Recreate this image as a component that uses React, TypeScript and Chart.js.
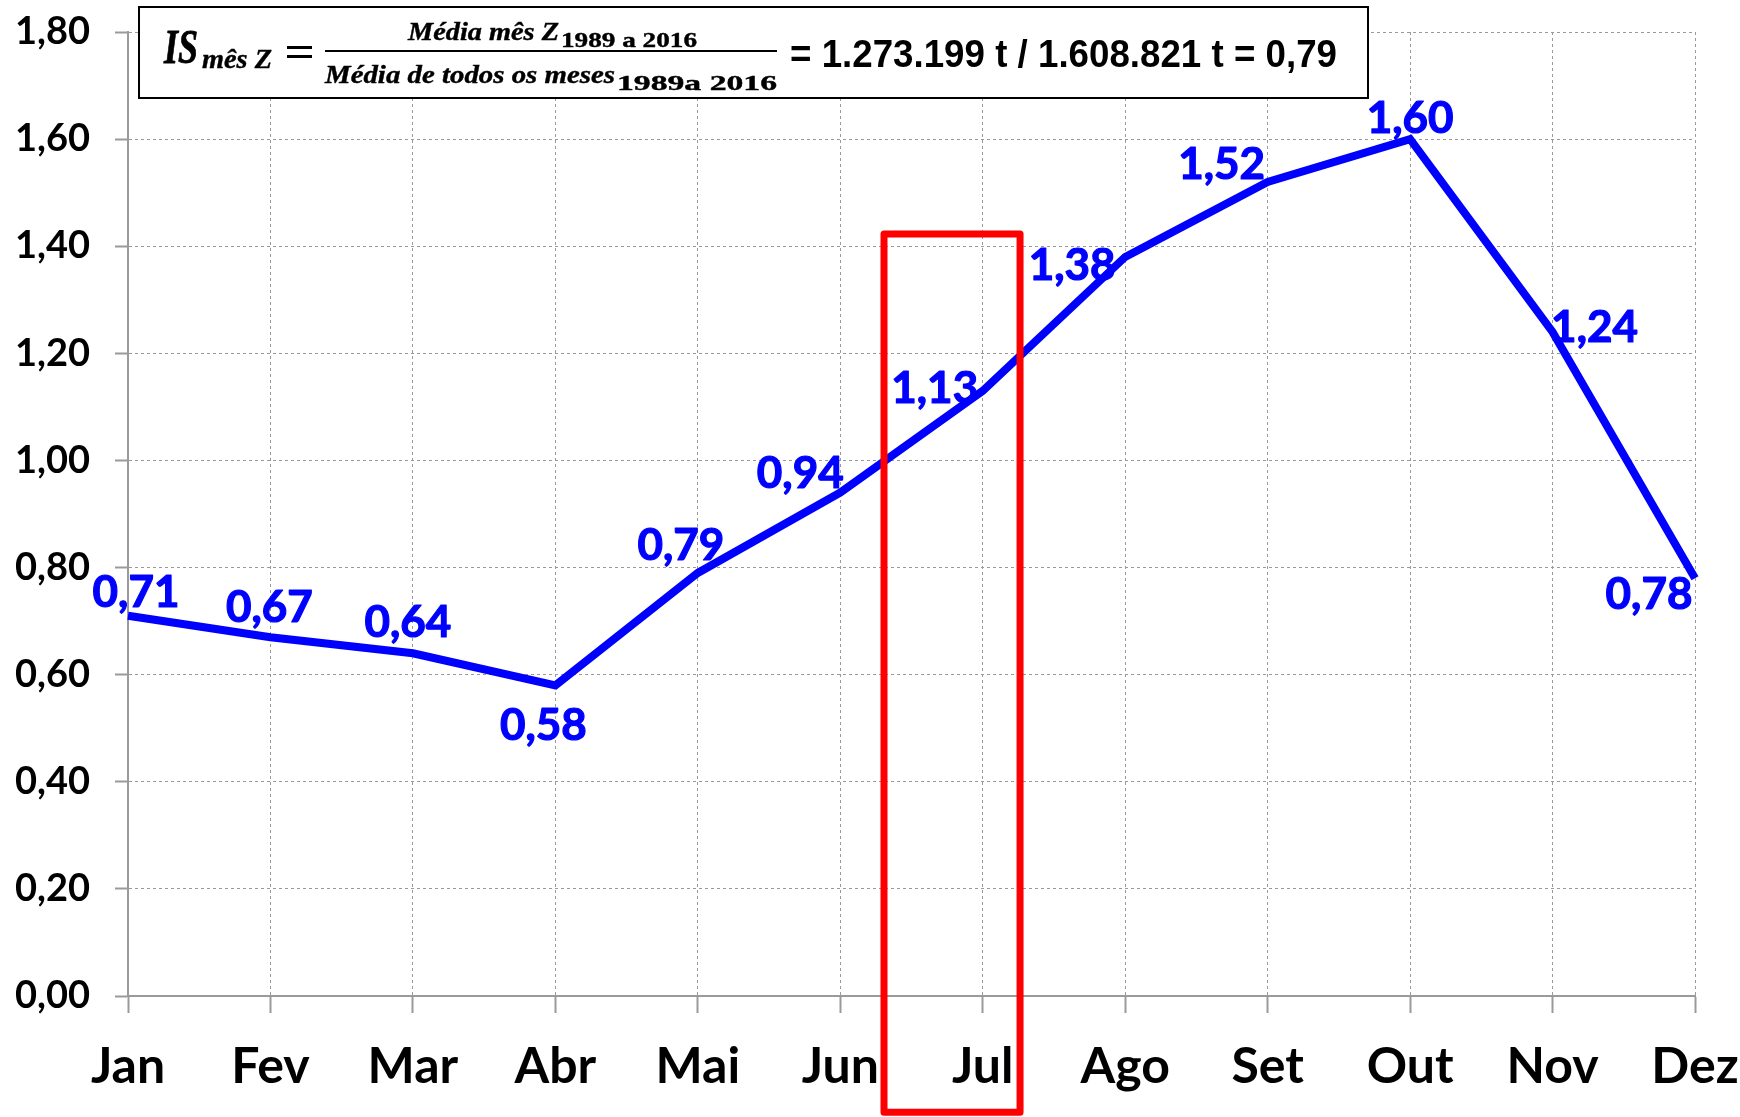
import React, { useEffect, useRef } from "react";
import { Chart, registerables } from "chart.js";

Chart.register(...registerables);

// ---- data ----
const months = ["Jan", "Fev", "Mar", "Abr", "Mai", "Jun", "Jul", "Ago", "Set", "Out", "Nov", "Dez"];
const seasonalIndex = [0.71, 0.67, 0.64, 0.58, 0.79, 0.94, 1.13, 1.38, 1.52, 1.6, 1.24, 0.78];
const yMin = 0;
const yMax = 1.8;
const yStep = 0.2;
const formulaResult = "= 1.273.199 t / 1.608.821 t = 0,79";
// highlighted month box, in data units (category index / index value)
const highlightBox = { xFrom: 5.307, xTo: 6.262, yFrom: -0.217, yTo: 1.423 };

// ---- styles ----
const labelDx = [8, -1, -5, -12, -17, -40, -48, -53, -46, 0, 42, -46];
const labelDy = [-25, -31, -32, 39, -29, -20, -4, 7, -19, -22, -6, 15];
const LABEL_SIZE = 44;
const GRID = "#9a9a9a";

const fmt = (v: number) => v.toFixed(2).replace(".", ",");

function fitText(ctx: CanvasRenderingContext2D, text: string, font: string, x: number, y: number, w: number, stroke = 0) {
  ctx.save();
  ctx.font = font;
  ctx.textAlign = "left";
  ctx.textBaseline = "alphabetic";
  const m = ctx.measureText(text).width;
  ctx.translate(x, y);
  ctx.scale(w / m, 1);
  ctx.fillText(text, 0, 0);
  if (stroke > 0) {
    ctx.lineWidth = stroke;
    ctx.strokeStyle = ctx.fillStyle as string;
    ctx.strokeText(text, 0, 0);
  }
  ctx.restore();
}

const overlayPlugin = {
  id: "overlay",
  afterDatasetsDraw(chart: any) {
    const ctx: CanvasRenderingContext2D = chart.ctx;
    const meta = chart.getDatasetMeta(0);
    ctx.save();
    ctx.font = `bold ${LABEL_SIZE}px Lato`;
    ctx.fillStyle = "#0000FF";
    ctx.strokeStyle = "#0000FF";
    ctx.lineWidth = 1.2;
    ctx.lineJoin = "round";
    ctx.textAlign = "center";
    ctx.textBaseline = "alphabetic";
    meta.data.forEach((pt: any, i: number) => {
      const tx = pt.x + labelDx[i];
      const ty = pt.y + labelDy[i] + 0.36 * LABEL_SIZE;
      ctx.fillText(fmt(seasonalIndex[i]), tx, ty);
      ctx.strokeText(fmt(seasonalIndex[i]), tx, ty);
    });
    ctx.restore();

    // red highlight box
    const xs = chart.scales.x;
    const ys = chart.scales.y;
    const l = xs.getPixelForValue(highlightBox.xFrom);
    const r = xs.getPixelForValue(highlightBox.xTo);
    const t = ys.getPixelForValue(highlightBox.yTo);
    const b = ys.getPixelForValue(highlightBox.yFrom);
    ctx.save();
    ctx.strokeStyle = "#FF0000";
    ctx.lineWidth = 7;
    ctx.lineJoin = "round";
    ctx.strokeRect(l, t, r - l, b - t);
    ctx.restore();
  },
  afterDraw(chart: any) {
    const ctx: CanvasRenderingContext2D = chart.ctx;
    ctx.save();
    // formula box
    ctx.fillStyle = "#ffffff";
    ctx.fillRect(139, 7, 1229, 91);
    ctx.strokeStyle = "#000000";
    ctx.lineWidth = 2;
    ctx.strokeRect(139, 7, 1229, 91);
    ctx.fillStyle = "#000000";
    const serif = "'Liberation Serif', 'DejaVu Serif', serif";
    fitText(ctx, "IS", `bold italic 48px ${serif}`, 164, 63, 34, 0.8);
    fitText(ctx, "mês Z", `bold italic 28px ${serif}`, 202, 68, 70, 0.4);
    ctx.fillRect(287, 46, 25, 3);
    ctx.fillRect(287, 55, 25, 3);
    ctx.fillRect(325, 50, 452, 2);
    fitText(ctx, "Média mês Z", `bold italic 25px ${serif}`, 408, 40, 151, 0.4);
    fitText(ctx, "1989 a 2016", `bold 22px ${serif}`, 561, 47, 136, 0.4);
    fitText(ctx, "Média de todos os meses", `bold italic 25px ${serif}`, 325, 83, 290, 0.4);
    fitText(ctx, "1989a 2016", `bold 22px ${serif}`, 617, 90, 160, 0.4);
    fitText(ctx, formulaResult, "bold 38px 'Liberation Sans', Arial, sans-serif", 790, 67, 547);
    ctx.restore();
  },
};

export default function App() {
  const ref = useRef<HTMLCanvasElement | null>(null);

  useEffect(() => {
    let chart: Chart | null = null;
    let cancelled = false;
    const fontsReady = Promise.all([
      document.fonts.load("bold 40px Lato"),
      document.fonts.load("bold italic 40px 'Liberation Serif'"),
      document.fonts.load("bold 40px 'Liberation Serif'"),
      document.fonts.load("bold 40px 'Liberation Sans'"),
    ]).catch(() => null);
    fontsReady.then(() => {
      if (cancelled || !ref.current) return;
      chart = new Chart(ref.current, {
        type: "line",
        data: {
          labels: months,
          datasets: [
            {
              data: seasonalIndex,
              borderColor: "#0000FF",
              borderWidth: 8,
              pointRadius: 0,
              pointHoverRadius: 0,
              tension: 0,
              fill: false,
              borderJoinStyle: "miter",
              borderCapStyle: "butt",
            },
          ],
        },
        options: {
          animation: false,
          responsive: false,
          devicePixelRatio: 1,
          events: [],
          layout: { padding: { left: 0, right: 45, top: 32, bottom: 0 } },
          plugins: {
            legend: { display: false },
            tooltip: { enabled: false },
            title: { display: false },
          },
          scales: {
            x: {
              type: "category",
              offset: false,
              grid: {
                display: true,
                color: GRID,
                lineWidth: 1,
                drawTicks: true,
                tickLength: 17,
                tickColor: GRID,
                tickWidth: 2,
                tickBorderDash: [],
                borderDash: [3, 3],
              } as any,
              border: { display: true, color: GRID, width: 2, dash: [3, 3] },
              ticks: {
                color: "#000000",
                font: { family: "Lato", size: 50, weight: "bold" },
                padding: 24,
                maxRotation: 0,
                minRotation: 0,
                autoSkip: false,
              },
              afterFit: (scale: any) => {
                scale.height = 121;
                scale.paddingLeft = 0;
                scale.paddingRight = 0;
                scale.paddingTop = 0;
                scale.paddingBottom = 0;
              },
            },
            y: {
              type: "linear",
              min: yMin,
              max: yMax,
              grid: {
                display: true,
                color: GRID,
                lineWidth: 1,
                drawTicks: true,
                tickLength: 13,
                tickColor: GRID,
                tickWidth: 2,
                tickBorderDash: [],
                borderDash: [3, 3],
              } as any,
              border: { display: true, color: GRID, width: 2, dash: [3, 3] },
              ticks: {
                stepSize: yStep,
                color: "#000000",
                font: { family: "Lato", size: 38, weight: "bold" },
                padding: 25,
                callback: (v: any) => fmt(Number(v)),
              },
              afterFit: (scale: any) => {
                scale.width = 128;
                scale.paddingLeft = 0;
                scale.paddingRight = 0;
                scale.paddingTop = 0;
                scale.paddingBottom = 0;
              },
            },
          },
        },
        plugins: [overlayPlugin],
      } as any);
    });
    return () => {
      cancelled = true;
      if (chart) chart.destroy();
    };
  }, []);

  return (
    <div style={{ position: "absolute", left: 0, top: 0, width: 1740, height: 1117, background: "#ffffff" }}>
      <canvas ref={ref} width={1740} height={1117} style={{ display: "block", width: 1740, height: 1117 }} />
    </div>
  );
}
